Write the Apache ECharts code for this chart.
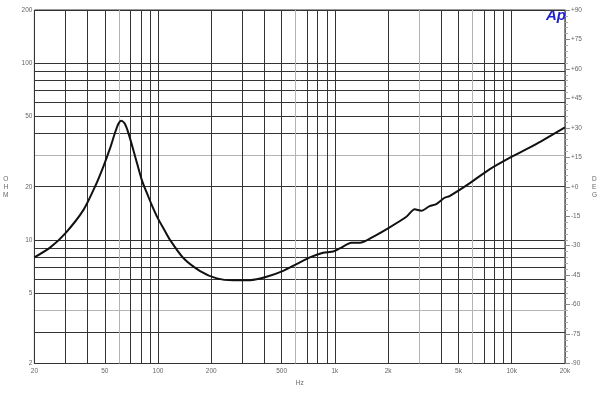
<!DOCTYPE html>
<html>
<head>
<meta charset="utf-8">
<script src="https://cdn.jsdelivr.net/npm/echarts@6/dist/echarts.min.js"></script>
<style>html,body{margin:0;padding:0;background:#fff;}#c{width:600px;height:395px;}</style>
</head>
<body>
<div id="c"></div>
<script>
// Impedance curve (Hz, ohm)
const freq = [20, 24.6, 29.9, 37.9, 44.2, 49.2, 53.7, 57.3, 59.8, 61.9, 64.7, 68.1, 74.3, 81, 88.3, 93, 100, 108, 117, 139, 173, 215, 267, 331, 411, 510, 607, 722, 858, 978, 1066, 1241, 1383, 1644, 1998, 2538, 2826, 3083, 3434, 3746, 4174, 4453, 5774, 7490, 10138, 13740, 20000];
const ohm  = [7.97, 9.08, 10.9, 14.8, 20.2, 26.2, 33.3, 40.8, 45.6, 47.3, 45.7, 40.1, 29.6, 21.8, 17.5, 15.45, 13.2, 11.5, 9.99, 7.9, 6.67, 6.06, 5.91, 5.92, 6.19, 6.69, 7.3, 7.97, 8.46, 8.6, 8.96, 9.64, 9.64, 10.42, 11.63, 13.52, 14.9, 14.63, 15.55, 15.96, 17.33, 17.72, 20.9, 25.1, 29.8, 34.9, 43.4];

// Axis ticks / labels
const xLabels = [20, 50, 100, 200, 500, 1000, 2000, 5000, 10000, 20000];
const xGrid = [20, 30, 40, 50, 60, 70, 80, 90, 100, 200, 300, 400, 500, 600, 700, 800, 900, 1000, 2000, 3000, 4000, 5000, 6000, 7000, 8000, 9000, 10000, 20000];
const yLabels = [2, 5, 10, 20, 50, 100, 200];
const yGrid = [2, 3, 4, 5, 6, 7, 8, 9, 10, 20, 30, 40, 50, 60, 70, 80, 90, 100, 200];
const xGreyLines = [60, 600, 3000, 6000];
const yGreyLines = [4, 30];
const degMin = -90, degMax = 90, degStep = 15;

const dark = '#333', grey = '#b4b4b4', labelColor = '#666';
const font = 'Liberation Sans';

const chart = echarts.init(document.getElementById('c'), null, {renderer: 'canvas'});
chart.setOption({
  animation: false,
  backgroundColor: '#fff',
  grid: {left: 34, right: 34.3, top: 10, bottom: 31.5, show: true, borderColor: dark, borderWidth: 1, containLabel: false},
  xAxis: {
    type: 'log', logBase: 10, min: 20, max: 20000,
    name: 'Hz', nameLocation: 'middle', nameGap: 13,
    nameTextStyle: {color: labelColor, fontSize: 6.5, fontFamily: font},
    axisLine: {show: false},
    axisTick: {show: false, customValues: xGrid},
    axisLabel: {customValues: xLabels, color: labelColor, fontSize: 6.5, fontFamily: font, margin: 4,
      formatter: v => v >= 1000 ? (v / 1000) + 'k' : String(v)},
    splitLine: {show: true, lineStyle: {width: 1, color: xGrid.map(v => xGreyLines.includes(v) ? grey : dark)}},
    minorSplitLine: {show: false}
  },
  yAxis: [{
    type: 'log', logBase: 10, min: 2, max: 200,
    name: 'O\nH\nM', nameLocation: 'middle', nameGap: 26, nameRotate: 0,
    nameTextStyle: {color: labelColor, fontSize: 6.5, fontFamily: font, lineHeight: 8},
    axisLine: {show: false},
    axisTick: {show: false, customValues: yGrid},
    axisLabel: {customValues: yLabels, color: labelColor, fontSize: 6.5, fontFamily: font, margin: 2},
    splitLine: {show: true, lineStyle: {width: 1, color: yGrid.map(v => yGreyLines.includes(v) ? grey : dark)}}
  }, {
    type: 'value', min: degMin, max: degMax, interval: degStep, position: 'right',
    name: 'D\nE\nG', nameLocation: 'middle', nameGap: 27, nameRotate: 0,
    nameTextStyle: {color: labelColor, fontSize: 6.5, fontFamily: font, lineHeight: 8},
    axisLine: {show: true, lineStyle: {color: '#666', width: 1}},
    axisTick: {show: true, length: 5, lineStyle: {color: '#888'}},
    minorTick: {show: true, splitNumber: 5, length: 3, lineStyle: {color: '#aaa'}},
    axisLabel: {color: labelColor, fontSize: 6.5, fontFamily: font, margin: 6,
      formatter: v => v >= 0 ? '+' + v : String(v)},
    splitLine: {show: false}
  }],
  graphic: [{
    type: 'text', left: 546, top: 8,
    style: {text: 'Ap', font: 'italic bold 15px "Liberation Sans"', fill: '#1e1ed2'}
  }],
  series: [{
    type: 'line', xAxisIndex: 0, yAxisIndex: 0,
    data: freq.map((f, i) => [f, ohm[i]]),
    showSymbol: false, smooth: 0.25,
    lineStyle: {color: '#111', width: 2},
    z: 5
  }]
});
</script>
</body>
</html>
